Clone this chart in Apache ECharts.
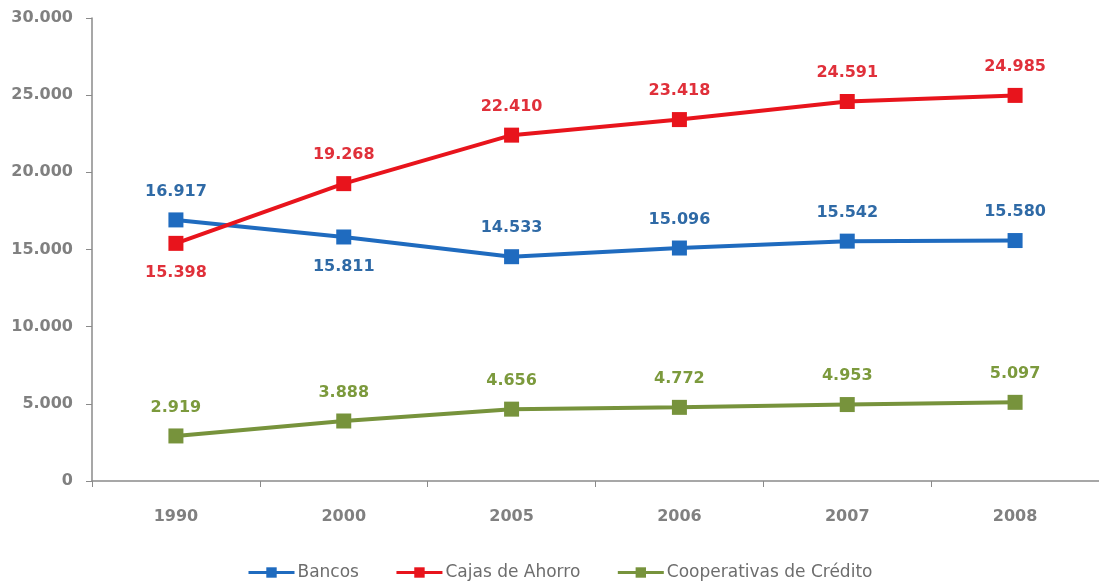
<!DOCTYPE html>
<html>
<head>
<meta charset="utf-8">
<script src="https://cdn.jsdelivr.net/npm/echarts@6/dist/echarts.min.js"></script>
<style>
html,body{margin:0;padding:0;background:#fff;}
#chart{width:1099px;height:585px;}
</style>
</head>
<body>
<div id="chart"></div>
<script>
const years = ['1990', '2000', '2005', '2006', '2007', '2008'];
const bancos = [16917, 15811, 14533, 15096, 15542, 15580];
const cajas = [15398, 19268, 22410, 23418, 24591, 24985];
const cooperativas = [2919, 3888, 4656, 4772, 4953, 5097];
const yTicks = [0, 5000, 10000, 15000, 20000, 25000, 30000];

// Which points carry their label below the marker
const bancosBelow = [false, true, false, false, false, false];
const cajasBelow = [true, false, false, false, false, false];

const fmt = v => v === 0 ? '0' : v.toLocaleString('de-DE');
const FONT = '"DejaVu Sans", "Liberation Sans", sans-serif';

function seriesData(values, below) {
  return values.map((v, i) => ({
    value: v,
    label: below && below[i] ? { position: 'bottom', distance: 14 } : undefined
  }));
}

function makeSeries(name, values, color, labelColor, below) {
  return {
    name: name,
    type: 'line',
    data: seriesData(values, below),
    symbol: 'rect',
    symbolSize: 15,
    lineStyle: { width: 4, color: color },
    itemStyle: { color: color },
    label: {
      show: true,
      position: 'top',
      distance: 13,
      color: labelColor,
      fontFamily: FONT,
      fontWeight: 'bold',
      fontSize: 16,
      formatter: p => fmt(p.value)
    },
    emphasis: { disabled: true },
    animation: false
  };
}

const chart = echarts.init(document.getElementById('chart'));
chart.setOption({
  backgroundColor: '#fff',
  animation: false,
  grid: { left: 92, right: 0, top: 18, bottom: 104 },
  legend: {
    top: 559,
    left: 242,
    itemWidth: 46,
    itemHeight: 13,
    itemGap: 36,
    lineStyle: { width: 3 },
    textStyle: { color: '#6d6d6d', fontFamily: FONT, fontSize: 17, padding: [0, 0, 0, -2] },
    data: ['Bancos', 'Cajas de Ahorro', 'Cooperativas de Crédito']
  },
  xAxis: {
    type: 'category',
    data: years,
    boundaryGap: true,
    axisLine: { lineStyle: { color: '#8a8a8a', width: 1.5 } },
    axisTick: { show: true, length: 6, lineStyle: { color: '#8a8a8a' } },
    axisLabel: { color: '#808080', fontFamily: FONT, fontWeight: 'bold', fontSize: 16, margin: 28 }
  },
  yAxis: {
    type: 'value',
    min: yTicks[0],
    max: yTicks[yTicks.length - 1],
    interval: yTicks[1] - yTicks[0],
    splitLine: { show: false },
    axisLine: { show: true, lineStyle: { color: '#8a8a8a', width: 1.5 } },
    axisTick: { show: true, length: 6, lineStyle: { color: '#8a8a8a' } },
    axisLabel: { color: '#808080', fontFamily: FONT, fontWeight: 'bold', fontSize: 16, margin: 19, formatter: fmt }
  },
  series: [
    makeSeries('Bancos', bancos, '#1f6bbf', '#2f6aa6', bancosBelow),
    makeSeries('Cajas de Ahorro', cajas, '#e8141c', '#e0303a', cajasBelow),
    makeSeries('Cooperativas de Crédito', cooperativas, '#77933c', '#7c9a3d', null)
  ]
});
</script>
</body>
</html>
